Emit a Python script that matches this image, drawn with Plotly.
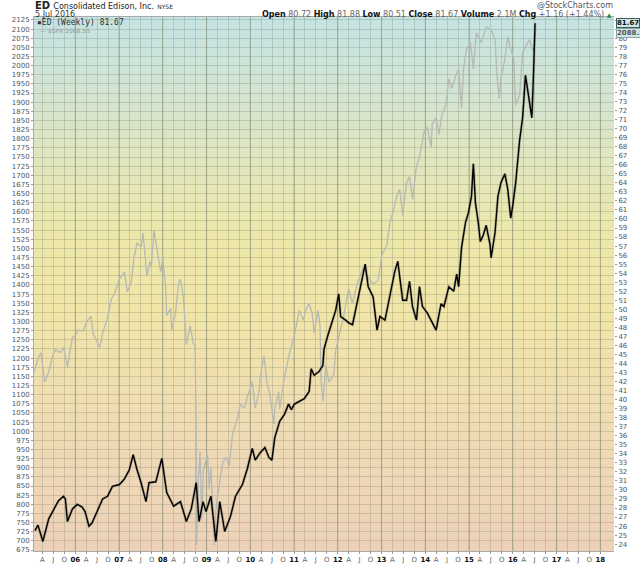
import plotly.graph_objects as go

# ED weekly close (right axis)
ed_dates = [
    "2005-01-29", "2005-02-23", "2005-04-05", "2005-05-24", "2005-07-20", "2005-08-14", "2005-09-24",
    "2005-10-10", "2005-10-27", "2005-12-08", "2006-01-17", "2006-02-27", "2006-03-23", "2006-04-25",
    "2006-05-19", "2006-06-13", "2006-07-24", "2006-08-17", "2006-09-27", "2006-11-07", "2007-01-04",
    "2007-02-14", "2007-03-27", "2007-04-29", "2007-06-01", "2007-07-04", "2007-08-14", "2007-09-08",
    "2007-11-04", "2007-12-24", "2008-02-03", "2008-04-01", "2008-05-28", "2008-07-16", "2008-08-26",
    "2008-10-06", "2008-10-30", "2008-12-02", "2008-12-27", "2009-02-06", "2009-03-19", "2009-04-21",
    "2009-06-01", "2009-07-20", "2009-08-30", "2009-10-27", "2009-12-08", "2010-01-17", "2010-02-11",
    "2010-03-23", "2010-05-03", "2010-06-05", "2010-06-30", "2010-07-24", "2010-09-03", "2010-10-14",
    "2010-11-16", "2010-12-10", "2011-01-04", "2011-02-14", "2011-03-27", "2011-05-07", "2011-05-24",
    "2011-06-18", "2011-07-28", "2011-08-30", "2011-09-08", "2011-10-10", "2011-11-04", "2011-12-15",
    "2012-01-09", "2012-01-25", "2012-03-07", "2012-04-01", "2012-05-03", "2012-05-28", "2012-07-08",
    "2012-08-17", "2012-09-11", "2012-10-22", "2012-11-24", "2012-12-18", "2013-01-29", "2013-03-11",
    "2013-04-21", "2013-05-16", "2013-06-26", "2013-07-28", "2013-08-22", "2013-09-16", "2013-10-19",
    "2013-11-13", "2013-12-08", "2014-01-17", "2014-02-27", "2014-04-01", "2014-05-12", "2014-06-05",
    "2014-07-16", "2014-08-26", "2014-09-20", "2014-10-06", "2014-10-30", "2014-12-02", "2014-12-27",
    "2015-01-21", "2015-02-06", "2015-02-23", "2015-03-19", "2015-04-05", "2015-04-29", "2015-05-24",
    "2015-06-26", "2015-07-04", "2015-08-06", "2015-08-30", "2015-09-24", "2015-10-27", "2015-11-20",
    "2015-12-15", "2016-01-01", "2016-01-25", "2016-02-27", "2016-03-23", "2016-04-16", "2016-05-19",
    "2016-06-08", "2016-06-20", "2016-06-28", "2016-07-05",
]
ed_close = [
    25.5, 26.1, 24.3, 26.8, 28.2, 28.8, 29.3,
    29.0, 26.5, 27.9, 28.4, 28.1, 27.6, 26.0,
    26.3, 27.1, 28.4, 29.0, 29.3, 30.4, 30.6,
    31.2, 32.2, 33.9, 32.2, 30.8, 28.7, 30.8,
    30.9, 33.5, 29.7, 28.2, 28.7, 26.5, 27.9,
    30.8, 26.5, 28.7, 27.6, 29.3, 24.3, 28.7,
    25.4, 27.1, 29.3, 30.6, 32.4, 34.6, 33.3,
    34.1, 34.7, 33.6, 33.3, 35.8, 37.6, 38.4,
    39.5, 38.9, 39.5, 39.8, 40.1, 40.9, 43.4,
    42.7, 43.1, 43.8, 45.6, 47.1, 48.1, 49.9,
    51.7, 49.2, 48.8, 48.5, 48.3, 49.9, 52.8,
    55.0, 52.5, 51.4, 47.7, 49.2, 48.8, 51.4,
    54.2, 55.3, 51.0, 51.0, 53.1, 50.3, 48.8,
    52.5, 50.3, 49.6, 48.5, 47.7, 50.6, 50.3,
    52.5, 52.0, 53.9, 52.5, 56.8, 59.6, 60.7,
    62.5, 66.1, 61.8, 59.6, 57.5, 58.2, 59.3,
    57.1, 55.7, 58.5, 62.5, 64.0, 65.0, 63.3,
    60.1, 61.5, 64.0, 68.7, 71.2, 75.9, 73.1,
    71.2, 75.2, 79.0, 81.67,
]

# $SPX weekly close (left axis)
spx_dates = [
    "2005-01-21", "2005-02-23", "2005-03-19", "2005-04-21", "2005-05-24", "2005-06-26", "2005-07-20",
    "2005-08-30", "2005-09-24", "2005-10-27", "2005-11-20", "2005-12-08", "2006-01-01", "2006-01-25",
    "2006-03-07", "2006-04-08", "2006-05-12", "2006-05-28", "2006-07-24", "2006-08-17", "2006-09-27",
    "2006-10-30", "2006-11-24", "2007-01-04", "2007-02-14", "2007-03-11", "2007-04-13", "2007-05-07",
    "2007-06-01", "2007-07-04", "2007-07-20", "2007-08-22", "2007-09-16", "2007-09-28", "2007-10-19",
    "2007-11-20", "2007-12-15", "2008-01-01", "2008-01-25", "2008-02-03", "2008-03-07", "2008-03-15",
    "2008-04-16", "2008-05-12", "2008-05-28", "2008-06-21", "2008-07-16", "2008-08-17", "2008-09-11",
    "2008-09-27", "2008-10-06", "2008-10-10", "2008-10-24", "2008-11-07", "2008-11-21", "2008-12-05",
    "2008-12-26", "2009-01-09", "2009-01-23", "2009-02-06", "2009-02-27", "2009-03-06", "2009-03-20",
    "2009-04-10", "2009-05-16", "2009-06-09", "2009-07-10", "2009-08-06", "2009-09-16", "2009-10-10",
    "2009-11-13", "2009-12-08", "2010-01-01", "2010-01-17", "2010-02-11", "2010-03-15", "2010-03-23",
    "2010-04-25", "2010-05-19", "2010-06-13", "2010-07-16", "2010-07-24", "2010-08-26", "2010-09-03",
    "2010-10-06", "2010-10-30", "2010-11-24", "2010-12-27", "2011-01-21", "2011-02-14", "2011-03-19",
    "2011-04-13", "2011-05-07", "2011-06-01", "2011-06-18", "2011-07-20", "2011-08-06", "2011-08-14",
    "2011-08-30", "2011-09-24", "2011-10-19", "2011-11-28", "2011-12-15", "2012-01-09", "2012-02-19",
    "2012-04-01", "2012-05-03", "2012-06-13", "2012-08-01", "2012-09-11", "2012-10-22", "2012-12-02",
    "2013-01-04", "2013-02-14", "2013-03-11", "2013-04-05", "2013-05-07", "2013-06-01", "2013-06-26",
    "2013-07-28", "2013-08-22", "2013-09-16", "2013-10-19", "2013-11-13", "2013-12-24", "2014-01-17",
    "2014-02-19", "2014-02-27", "2014-04-01", "2014-04-25", "2014-05-19", "2014-06-21", "2014-07-16",
    "2014-08-09", "2014-09-11", "2014-10-06", "2014-10-30", "2014-11-16", "2014-12-10", "2015-01-13",
    "2015-02-06", "2015-03-03", "2015-04-13", "2015-05-24", "2015-07-04", "2015-08-06", "2015-08-22",
    "2015-09-10", "2015-09-24", "2015-10-27", "2015-11-20", "2015-12-15", "2016-01-10", "2016-01-25",
    "2016-02-27", "2016-03-23", "2016-04-16", "2016-05-19", "2016-06-13", "2016-06-24", "2016-07-05",
]
spx_close = [
    1162, 1197, 1215, 1135, 1162, 1207, 1223,
    1215, 1229, 1175, 1223, 1256, 1261, 1277,
    1274, 1301, 1314, 1269, 1229, 1269, 1309,
    1363, 1376, 1416, 1435, 1381, 1408, 1478,
    1515, 1504, 1542, 1424, 1464, 1451, 1550,
    1491, 1435, 1475, 1395, 1317, 1336, 1277,
    1322, 1403, 1416, 1368, 1237, 1288, 1242,
    1234, 1001, 688, 868, 943, 761, 894,
    921, 935, 841, 900, 747, 688, 787,
    841, 913, 929, 905, 993, 1036, 1074,
    1063, 1095, 1116, 1135, 1063, 1108, 1143,
    1207, 1135, 1100, 1020, 1063, 1108, 1060,
    1135, 1170, 1215, 1250, 1296, 1330, 1304,
    1336, 1349, 1322, 1269, 1330, 1288, 1143,
    1082, 1181, 1135, 1154, 1223, 1261, 1314,
    1389, 1349, 1405, 1448, 1421, 1403, 1411,
    1483, 1510, 1571, 1598, 1643, 1662, 1590,
    1678, 1697, 1635, 1724, 1750, 1823, 1831,
    1777, 1839, 1857, 1812, 1865, 1892, 1964,
    1938, 1972, 1991, 1884, 1991, 2045, 2063,
    1991, 2090, 2063, 2106, 2098, 2071, 1972,
    1910, 1964, 2018, 2079, 2045, 2018, 1892,
    1919, 2037, 2053, 2071, 2045, 2040, 2088.55,
]

# quarterly x tick labels
quarter_letters = {4: "A", 7: "J", 10: "O"}
tick_vals, tick_text, year_lines = [], [], []
for yr in range(2005, 2019):
    for m in (1, 4, 7, 10):
        if (yr == 2005 and m == 1) or (yr == 2018 and m > 1):
            continue
        tick_vals.append(f"{yr}-{m:02d}-01")
        if m == 1:
            tick_text.append(f"<b><span style='color:#111'>{yr % 100:02d}</span></b>")
            year_lines.append(f"{yr}-01-01")
        else:
            tick_text.append(quarter_letters[m])

fig = go.Figure()
fig.add_trace(go.Scatter(x=spx_dates, y=spx_close, mode="lines", yaxis="y",
                         line=dict(color="#b6b9b4", width=1.3), hoverinfo="skip"))
fig.add_trace(go.Scatter(x=ed_dates, y=ed_close, mode="lines", yaxis="y2",
                         line=dict(color="rgba(100,100,90,0.35)", width=2.8), hoverinfo="skip"))
fig.add_trace(go.Scatter(x=ed_dates, y=ed_close, mode="lines", yaxis="y2",
                         line=dict(color="black", width=1.4), hoverinfo="skip"))

# background gradient, top teal -> middle pale yellow -> bottom peach
stops = [(0.0, (237, 209, 185)), (0.2, (239, 218, 180)), (0.45, (241, 229, 168)),
         (0.58, (238, 231, 170)), (0.72, (226, 230, 188)), (0.86, (210, 228, 210)),
         (1.0, (196, 227, 228))]


def grad(t):
    for (t0, c0), (t1, c1) in zip(stops[:-1], stops[1:]):
        if t0 <= t <= t1:
            f = (t - t0) / (t1 - t0)
            return "rgb(%d,%d,%d)" % tuple(round(a + (b - a) * f) for a, b in zip(c0, c1))
    return "rgb(%d,%d,%d)" % stops[-1][1]


shapes = []
n = 70
for i in range(n):
    shapes.append(dict(type="rect", xref="paper", yref="paper", x0=0, x1=1,
                       y0=i / n, y1=(i + 1) / n + 0.002, fillcolor=grad((i + 0.5) / n),
                       line=dict(width=0), layer="below"))
for d in year_lines:
    shapes.append(dict(type="line", xref="x", yref="paper", x0=d, x1=d, y0=0, y1=1,
                       line=dict(color="rgba(120,130,105,0.5)", width=1), layer="below"))

font = "DejaVu Sans"
annotations = [
    dict(x=-0.002, y=1.021, xref="paper", yref="paper", xanchor="left", yanchor="middle", showarrow=False,
         text="<b>ED</b> <span style='font-size:8px'>Consolidated Edison, Inc.</span> "
              "<span style='font-size:6px'>NYSE</span>",
         font=dict(family=font, size=10, color="#222")),
    dict(x=-0.002, y=1.004, xref="paper", yref="paper", xanchor="left", yanchor="middle", showarrow=False,
         text="5 Jul 2016", font=dict(family=font, size=8, color="#333")),
    dict(x=1.002, y=1.021, xref="paper", yref="paper", xanchor="right", yanchor="middle", showarrow=False,
         text="@StockCharts.com", font=dict(family=font, size=8, color="#555")),
    dict(x=1.0, y=1.004, xref="paper", yref="paper", xanchor="right", yanchor="middle", showarrow=False,
         text="<b>Open</b> <span style='color:#666'>80.72</span> <b>High</b> <span style='color:#666'>81.88</span> "
              "<b>Low</b> <span style='color:#666'>80.51</span> <b>Close</b> <span style='color:#666'>81.67</span> "
              "<b>Volume</b> <span style='color:#666'>2.1M</span> <b>Chg</b> "
              "<span style='color:#666'>+1.16 (+1.44%)</span> <span style='color:#2a8a3a;font-size:6px'>▲</span>",
         font=dict(family=font, size=8, color="#111")),
    dict(x=0.002, y=0.989, xref="paper", yref="paper", xanchor="left", yanchor="middle", showarrow=False,
         text="<b>▪</b>ED (Weekly) %.2f" % ed_close[-1],
         font=dict(family="DejaVu Sans Mono", size=8, color="#333")),
    dict(x=0.007, y=0.974, xref="paper", yref="paper", xanchor="left", yanchor="middle", showarrow=False,
         text="— $SPX %.2f" % spx_close[-1], font=dict(family=font, size=6, color="#999")),
    dict(x=1.0, y=ed_close[-1], xref="paper", yref="y2", xanchor="left", yanchor="middle", showarrow=False,
         xshift=2, text="<b>%.2f</b>" % ed_close[-1], bgcolor="#cfe8e5", bordercolor="#3d5c5c",
         borderwidth=1, borderpad=0, font=dict(family=font, size=7, color="#111")),
    dict(x=1.0, y=spx_close[-1], xref="paper", yref="y", xanchor="left", yanchor="middle", showarrow=False,
         xshift=2, text="<b>%.2f</b>" % spx_close[-1], bgcolor="#cfe8e5", bordercolor="#8aa5a5",
         borderwidth=1, borderpad=0, font=dict(family=font, size=7, color="#556")),
]

grid = "rgba(130,140,115,0.32)"
fig.update_layout(
    width=640, height=576,
    margin=dict(l=28, r=22, t=17, b=13),
    paper_bgcolor="white", plot_bgcolor="#efe3b0",
    showlegend=False,
    shapes=shapes, annotations=annotations,
    xaxis=dict(type="date", range=["2005-01-21", "2018-04-25"], tickmode="array",
               tickvals=tick_vals, ticktext=tick_text, tickangle=0, showgrid=True, gridcolor=grid,
               gridwidth=1, ticks="outside", ticklen=2, tickcolor="#999", showline=True,
               linecolor="#aaa", mirror=True, tickfont=dict(family=font, size=7, color="#666"),
               zeroline=False),
    yaxis=dict(range=[672.3, 2133], tick0=675, dtick=25, showgrid=True, gridcolor=grid,
               ticks="outside", ticklen=2, tickcolor="#999", showline=True, linecolor="#aaa",
               tickfont=dict(family=font, size=7, color="#555"), zeroline=False),
    yaxis2=dict(range=[23.24, 82.36], overlaying="y", side="right", tick0=24, dtick=1,
                showgrid=False, ticks="outside", ticklen=2, tickcolor="#999",
                tickfont=dict(family=font, size=7, color="#555"), zeroline=False),
)

fig.write_html("out.html", config={"displayModeBar": False},
               post_script="document.body.style.margin='0';")
